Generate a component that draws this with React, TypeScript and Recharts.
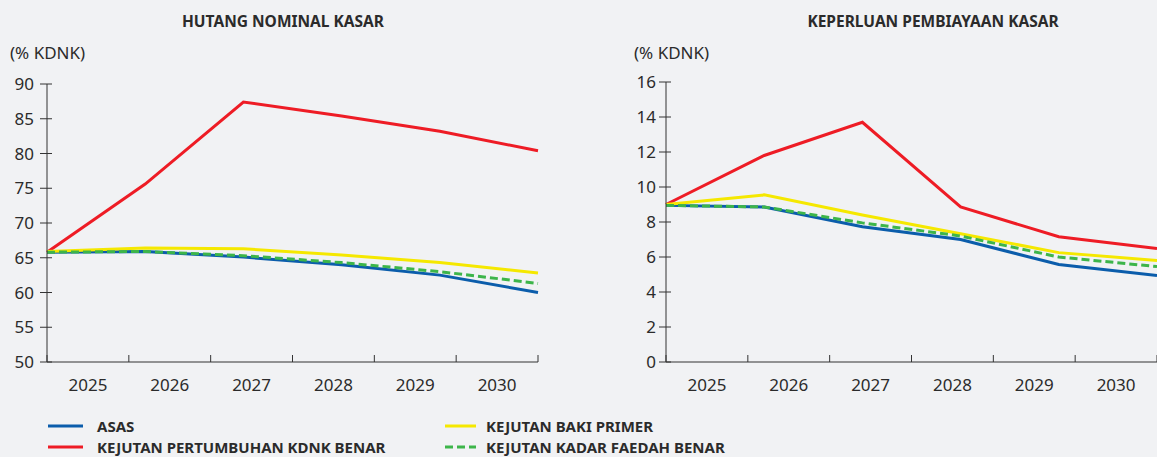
import React from 'react';
import { LineChart, Line, XAxis, YAxis } from 'recharts';

const years = ['2025', '2026', '2027', '2028', '2029', '2030'];

// hutang nominal kasar (% KDNK)
const debtAsas = [65.8, 65.9, 65.1, 64.0, 62.5, 60.0];
const debtKdnk = [65.8, 75.6, 87.4, 85.4, 83.2, 80.4];
const debtBaki = [65.9, 66.4, 66.3, 65.4, 64.3, 62.8];
const debtFaedah = [65.8, 65.9, 65.3, 64.3, 63.0, 61.3];
const debtTicks = [50, 55, 60, 65, 70, 75, 80, 85, 90];

// keperluan pembiayaan kasar (% KDNK)
const finAsas = [8.95, 8.86, 7.73, 7.0, 5.57, 4.94];
const finKdnk = [9.0, 11.8, 13.7, 8.86, 7.16, 6.48];
const finBaki = [9.0, 9.55, 8.4, 7.33, 6.25, 5.8];
const finFaedah = [8.95, 8.86, 7.95, 7.2, 6.0, 5.45];
const finTicks = [0, 2, 4, 6, 8, 10, 12, 14, 16];

const series = [
  { key: 'asas', name: 'ASAS', color: '#0b5dab', dash: undefined },
  { key: 'kdnk', name: 'KEJUTAN PERTUMBUHAN KDNK BENAR', color: '#ee1c25', dash: undefined },
  { key: 'baki', name: 'KEJUTAN BAKI PRIMER', color: '#f5e800', dash: undefined },
  { key: 'faedah', name: 'KEJUTAN KADAR FAEDAH BENAR', color: '#3db54a', dash: '8 4' },
];

const debtData = years.map((year, i) => ({
  year, asas: debtAsas[i], kdnk: debtKdnk[i], baki: debtBaki[i], faedah: debtFaedah[i],
}));
const finData = years.map((year, i) => ({
  year, asas: finAsas[i], kdnk: finKdnk[i], baki: finBaki[i], faedah: finFaedah[i],
}));

const FONT = '"Noto Sans", "Open Sans", sans-serif';
const AXIS = '#333';
const TEXT = '#2b2b2b';

function Panel({ data, ticks, width, margin, yWidth, labelGap }: any) {
  const plotW = width - margin.left - margin.right - yWidth;
  const half = plotW / years.length / 2;
  const last = years[years.length - 1];

  const YTick = ({ x, y, payload }: any) => (
    <g>
      <line x1={x - 7} x2={x + 5} y1={y} y2={y} stroke={AXIS} strokeWidth={1} />
      <text x={x - labelGap} y={y} dy="0.355em" textAnchor="end" fill={TEXT} fontSize={17} fontFamily={FONT}>
        {payload.value}
      </text>
    </g>
  );

  const XTick = ({ x, y, payload }: any) => (
    <g>
      <line x1={x - half} x2={x - half} y1={y} y2={y - 7} stroke={AXIS} strokeWidth={1} />
      {payload.value === last && (
        <line x1={x + half} x2={x + half} y1={y} y2={y - 7} stroke={AXIS} strokeWidth={1} />
      )}
      <text x={x} y={y + 23} dy="0.355em" textAnchor="middle" fill={TEXT} fontSize={17} fontFamily={FONT}>
        {payload.value}
      </text>
    </g>
  );

  return (
    <LineChart width={width} height={400} data={data} margin={margin}>
      <XAxis xAxisId="pts" dataKey="year" hide />
      <XAxis
        xAxisId="band"
        dataKey="year"
        scale="band"
        height={400 - 362}
        tickSize={0}
        tickMargin={0}
        tickLine={false}
        axisLine={{ stroke: AXIS }}
        tick={XTick}
        interval={0}
      />
      <YAxis
        width={yWidth}
        domain={[ticks[0], ticks[ticks.length - 1]]}
        ticks={ticks}
        type="number"
        tickSize={0}
        tickMargin={0}
        tickLine={false}
        axisLine={{ stroke: AXIS }}
        tick={YTick}
        interval={0}
      />
      {series.map((s) => (
        <Line
          key={s.key}
          xAxisId="pts"
          dataKey={s.key}
          stroke={s.color}
          strokeWidth={3}
          strokeDasharray={s.dash}
          dot={false}
          activeDot={false}
          isAnimationActive={false}
          type="linear"
        />
      ))}
    </LineChart>
  );
}

const legendSlots = [
  { lx: 48, lw: 35, tx: 97, y: 426 },
  { lx: 48, lw: 35, tx: 97, y: 447 },
  { lx: 445, lw: 31, tx: 486, y: 426 },
  { lx: 445, lw: 31, tx: 486, y: 447 },
];

export default function App() {
  const abs = (extra: any) => ({ position: 'absolute' as const, fontFamily: FONT, color: TEXT, ...extra });
  return (
    <div style={{ position: 'absolute', left: 0, top: 0, width: 1157, height: 457, background: '#f1f2f4', overflow: 'hidden' }}>
      <div style={abs({ left: 0, width: 566, top: 10, textAlign: 'center', fontWeight: 700, fontSize: 15.5, lineHeight: '22px' })}>
        HUTANG NOMINAL KASAR
      </div>
      <div style={abs({ left: 733, width: 400, top: 10, textAlign: 'center', fontWeight: 700, fontSize: 15.5, lineHeight: '22px' })}>
        KEPERLUAN PEMBIAYAAN KASAR
      </div>
      <div style={abs({ left: 10, top: 41, fontSize: 17, lineHeight: '24px' })}>(% KDNK)</div>
      <div style={abs({ left: 634, top: 41, fontSize: 17, lineHeight: '24px' })}>(% KDNK)</div>

      <div style={{ position: 'absolute', left: 0, top: 0 }}>
        <Panel data={debtData} ticks={debtTicks} width={580} margin={{ top: 84, right: 42, bottom: 0, left: 0 }} yWidth={47} labelGap={13} />
      </div>
      <div style={{ position: 'absolute', left: 580, top: 0 }}>
        <Panel data={finData} ticks={finTicks} width={577} margin={{ top: 82, right: 0, bottom: 0, left: 0 }} yWidth={86} labelGap={10} />
      </div>

      {series.map((s, i) => {
        const slot = legendSlots[i];
        return (
          <React.Fragment key={s.key}>
            <svg style={{ position: 'absolute', left: slot.lx, top: slot.y - 2 }} width={slot.lw} height={4}>
              <line x1={0} x2={slot.lw} y1={2} y2={2} stroke={s.color} strokeWidth={3} strokeDasharray={s.dash} />
            </svg>
            <div style={abs({ left: slot.tx, top: slot.y - 9, fontSize: 15, fontWeight: 700, lineHeight: '18px', whiteSpace: 'nowrap' })}>
              {s.name}
            </div>
          </React.Fragment>
        );
      })}
    </div>
  );
}
